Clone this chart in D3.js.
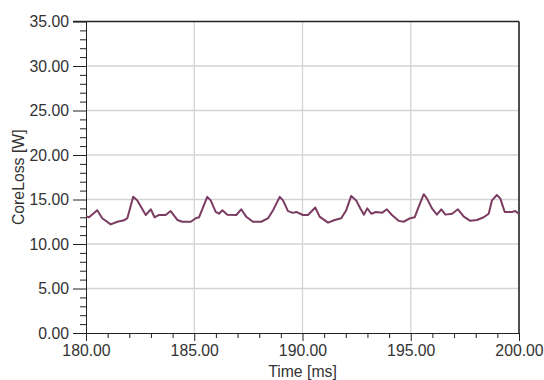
<!DOCTYPE html>
<html>
<head>
<meta charset="utf-8">
<script src="https://cdn.jsdelivr.net/npm/d3@7"></script>
<style>
  html, body { margin: 0; padding: 0; background: #fff; }
  svg { display: block; }
  text { font-family: "Liberation Sans", Arial, sans-serif; fill: #333; }
</style>
</head>
<body>
<svg id="chart" width="544" height="380"></svg>
<script>
// ---- data ----
const timeMs = [180.00,180.14,180.52,180.75,181.14,181.45,181.76,181.91,182.18,182.37,182.76,182.99,183.17,183.37,183.68,183.91,184.22,184.45,184.84,185.07,185.22,185.60,185.76,185.99,186.14,186.30,186.53,186.94,187.17,187.40,187.71,188.10,188.41,188.64,188.95,189.10,189.33,189.56,189.71,190.02,190.25,190.59,190.79,191.18,191.49,191.79,192.02,192.25,192.48,192.69,192.84,192.99,193.18,193.39,193.67,193.90,194.13,194.44,194.67,194.98,195.18,195.37,195.60,195.75,195.98,196.21,196.41,196.60,196.91,197.18,197.45,197.75,198.06,198.37,198.60,198.75,198.98,199.14,199.34,199.68,199.83,200.00];
const coreLossW = [13.1,13.0,13.8,12.9,12.2,12.5,12.66,12.9,15.3,14.9,13.26,13.9,13.0,13.26,13.26,13.7,12.7,12.5,12.5,12.9,13.0,15.3,14.9,13.6,13.4,13.8,13.3,13.26,13.9,13.07,12.5,12.5,12.9,13.8,15.3,14.9,13.7,13.5,13.6,13.26,13.26,14.1,13.07,12.4,12.7,12.9,13.8,15.4,14.9,13.9,13.3,14.0,13.4,13.6,13.5,13.9,13.26,12.6,12.5,12.9,13.0,14.2,15.6,15.1,14.0,13.3,13.9,13.3,13.4,13.9,13.07,12.6,12.7,13.0,13.4,14.9,15.5,15.1,13.6,13.6,13.7,13.4];
const xTicks = [180, 185, 190, 195, 200];
const yTicks = [0, 5, 10, 15, 20, 25, 30, 35];
const xTickLabels = ["180.00", "185.00", "190.00", "195.00", "200.00"];
const yTickLabels = ["0.00", "5.00", "10.00", "15.00", "20.00", "25.00", "30.00", "35.00"];
const xTitle = "Time [ms]";
const yTitle = "CoreLoss [W]";

// ---- layout ----
const L = 86, R = 519, T = 21.5, B = 333;
const FS = "15.8px";
const svg = d3.select("#chart");
const x = d3.scaleLinear().domain([180, 200]).range([L, R]);
const y = d3.scaleLinear().domain([0, 35]).range([B, T]);

// grid
const grid = svg.append("g").attr("stroke", "#d4d4d4").attr("stroke-width", 1.3);
grid.selectAll(".gx").data(xTicks.filter(d => d > 180 && d < 200)).join("line")
  .attr("x1", d => x(d)).attr("x2", d => x(d)).attr("y1", T).attr("y2", B);
grid.selectAll(".gy").data(yTicks.filter(d => d > 0 && d < 35)).join("line")
  .attr("x1", L).attr("x2", R).attr("y1", d => y(d)).attr("y2", d => y(d));

// minor ticks
const yMinor = d3.range(0, 35.001, 1).filter(d => d % 5 !== 0);
const xMinor = d3.range(180, 200.001, 1).filter(d => d % 5 !== 0);

// y axis
const yAxis = svg.append("g").attr("transform", `translate(${L},0)`)
  .call(d3.axisLeft(y).tickValues(yTicks).tickFormat((d, i) => yTickLabels[i]).tickSize(13).tickPadding(4).tickSizeOuter(0));
yAxis.selectAll(".tick line").attr("stroke", "#222");
yAxis.select(".domain").attr("stroke", "#222");
yAxis.selectAll("text").style("font-size", FS).attr("fill", "#333");
svg.append("g").attr("transform", `translate(${L},0)`)
  .call(d3.axisLeft(y).tickValues(yMinor).tickFormat("").tickSize(6).tickSizeOuter(0))
  .call(g => g.select(".domain").remove())
  .selectAll("line").attr("stroke", "#222");

// x axis
const xAxis = svg.append("g").attr("transform", `translate(0,${B})`)
  .call(d3.axisBottom(x).tickValues(xTicks).tickFormat((d, i) => xTickLabels[i]).tickSize(8).tickPadding(4).tickSizeOuter(0));
xAxis.selectAll(".tick line").attr("stroke", "#222");
xAxis.select(".domain").attr("stroke", "#222");
xAxis.selectAll("text").style("font-size", FS).attr("fill", "#333");
svg.append("g").attr("transform", `translate(0,${B})`)
  .call(d3.axisBottom(x).tickValues(xMinor).tickFormat("").tickSize(5).tickSizeOuter(0))
  .call(g => g.select(".domain").remove())
  .selectAll("line").attr("stroke", "#222");

// frame top & right
svg.append("line").attr("x1", L - 13).attr("x2", R).attr("y1", T).attr("y2", T)
  .attr("stroke", "#222").attr("stroke-width", 1.3);
svg.append("line").attr("x1", R).attr("x2", R).attr("y1", T).attr("y2", B)
  .attr("stroke", "#222").attr("stroke-width", 1.6);

// line
const pts = timeMs.map((t, i) => [t, coreLossW[i]]);
svg.append("path").datum(pts)
  .attr("fill", "none").attr("stroke", "#7b3c62").attr("stroke-width", 2)
  .attr("stroke-linejoin", "round")
  .attr("d", d3.line().x(d => x(d[0])).y(d => y(d[1])));

// titles
svg.append("text").attr("x", (L + R) / 2).attr("y", 377).attr("text-anchor", "middle")
  .style("font-size", FS).text(xTitle);
svg.append("text").attr("transform", `translate(24,${(T + B) / 2}) rotate(-90)`)
  .attr("text-anchor", "middle").style("font-size", FS).text(yTitle);
</script>
</body>
</html>
